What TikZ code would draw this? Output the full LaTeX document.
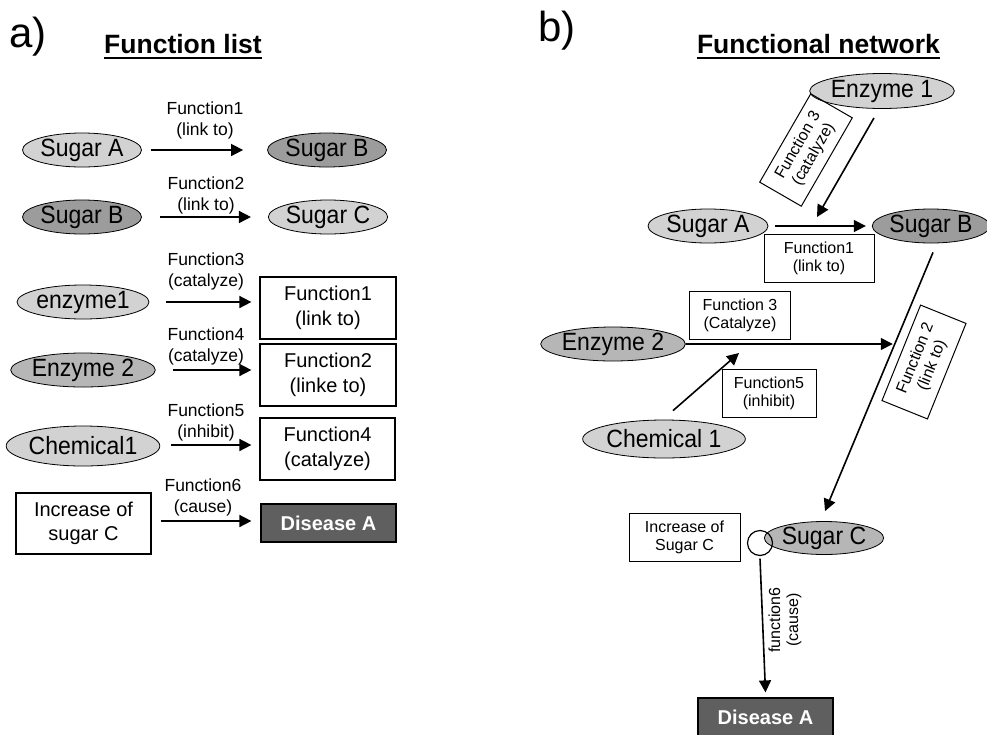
\documentclass[tikz,border=0pt]{standalone}
\usepackage{fontspec}
\setmainfont{Liberation Sans}
\newfontfamily\condfont{Liberation Sans}[FakeStretch=0.92]
\usetikzlibrary{shapes.geometric,arrows.meta,calc}
\definecolor{lightg}{HTML}{D2D2D2}
\definecolor{midg}{HTML}{B6B6B6}
\definecolor{darkg}{HTML}{9C9C9C}
\definecolor{disg}{HTML}{5F5F5F}
\begin{document}
\begin{tikzpicture}[x=1pt,y=-1pt,
  ell/.style={ellipse,draw,line width=0.8pt,inner sep=0pt,minimum width=119pt,minimum height=34pt,font=\condfont\fontsize{25}{27}\selectfont},
  bigbox/.style={rectangle,draw,line width=1.2pt,inner sep=0pt,align=center,font=\fontsize{20}{25}\selectfont},
  smallbox/.style={rectangle,draw,line width=1pt,inner sep=0pt,align=center,font=\fontsize{16}{18}\selectfont},
  disbox/.style={rectangle,draw,line width=1.2pt,fill=disg,text=white,inner sep=0pt,minimum width=135pt,minimum height=38pt,font=\fontsize{20}{24}\bfseries\selectfont},
  arrlab/.style={align=center,inner sep=0pt,font=\fontsize{17.5}{21}\selectfont},
  rotlab/.style={align=center,inner sep=0pt,font=\fontsize{16}{18}\selectfont},
  arr/.style={line width=1.6pt,-{Triangle[length=12pt,width=12pt]}},
  title/.style={anchor=base,inner sep=0pt,font=\fontsize{26.5}{30}\bfseries\selectfont},
  panel/.style={anchor=base,inner sep=0pt,font=\fontsize{42}{46}\selectfont}]
\fill[white] (0,0) rectangle (987,734);
\useasboundingbox (0,0) rectangle (987,734);

% ---------------- panel a ----------------
\node[panel] (pa) at (28,47) {a)};
\node[title] (ta) at (183,53) {Function list};
\draw[line width=1.6pt] ($(ta.base west)+(0,5)$) -- ($(ta.base east)+(0,5)$);

\node[ell,fill=lightg] (sa) at (82,150) {Sugar A};
\node[ell,fill=darkg] (sb1) at (327,150) {Sugar B};
\draw[arr] ([xshift=9pt]sa.east) -- ([xshift=-24pt]sb1.west);
\node[arrlab] (l1) at (205,120) {Function1\\(link to)};

\node[ell,fill=darkg] (sb2) at (82,217) {Sugar B};
\node[ell,fill=lightg] (sc1) at (328,217) {Sugar C};
\draw[arr] ([xshift=18pt]sb2.east) -- ([xshift=-17pt]sc1.west);
\node[arrlab] (l2) at (206,195) {Function2\\(link to)};

\node[ell,fill=lightg] (e1) at (83,302) {enzyme1};
\node[bigbox,minimum width=136pt,minimum height=62pt] (f1) at (328,308) {Function1\\(link to)};
\draw[arr] ([xshift=17pt]e1.east) -- ($(e1.east -| f1.west)+(-8,0)$);
\node[arrlab] (l3) at (206,271) {Function3\\(catalyze)};

\node[ell,fill=midg] (e2) at (83,370) {Enzyme 2};
\node[bigbox,minimum width=136pt,minimum height=62pt] (f2) at (328,375) {Function2\\(linke to)};
\draw[arr] ([xshift=17pt]e2.east) -- ($(e2.east -| f2.west)+(-8,0)$);
\node[arrlab] (l4) at (206,346) {Function4\\(catalyze)};

\node[ell,fill=lightg,minimum width=132pt,minimum height=40pt] (ch) at (83,446) {Chemical1};
\node[bigbox,minimum width=135pt,minimum height=62pt] (f4) at (327.5,449) {Function4\\(catalyze)};
\draw[arr] ($(ch.east)+(11,-1)$) -- ($(ch.east -| f4.west)+(-8,-1)$);
\node[arrlab] (l5) at (206,422) {Function5\\(inhibit)};

\node[bigbox,minimum width=135pt,minimum height=61pt,font=\fontsize{20}{24}\selectfont] (inc1) at (83.5,523.5) {Increase of\\sugar C};
\node[disbox] (dis1) at (328.5,523) {Disease A};
\draw[arr] ($(inc1.east)+(9,-2.5)$) -- ($(inc1.east -| dis1.west)+(-9,-2.5)$);
\node[arrlab] (l6) at (203,497) {Function6\\(cause)};

% ---------------- panel b ----------------
\node[panel] (pb) at (557,41) {b)};
\node[title] (tb) at (818.5,53) {Functional network};
\draw[line width=1.6pt] ($(tb.base west)+(0,5)$) -- ($(tb.base east)+(0,5)$);

\node[ell,fill=lightg,minimum height=35pt] (E1) at (882,91) {Enzyme 1};
\node[ell,fill=lightg,minimum width=120pt] (SA) at (708,226) {Sugar A};
\node[ell,fill=darkg,minimum width=113pt] (SB) at (931,226) {Sugar B};
\node[smallbox,minimum width=110pt,minimum height=48pt] (F1b) at (819,258) {Function1\\(link to)};
\draw[arr] ([xshift=7pt]SA.east) -- ([xshift=-6pt]SB.west);
\coordinate (c1) at (817,217);
\draw[arr] ($(E1.south)+(-8,9)$) -- (c1);
\node[smallbox,rotate=60,minimum width=102pt,minimum height=48pt] (F3a) at (806,150) {Function 3\\(catalyze)};

\node[ell,fill=midg,minimum width=118pt,minimum height=33pt] (SC) at (824,538) {Sugar C};
\coordinate (p1) at ($(SB.south)+(2,9)$);
\coordinate (p2) at ($(SC.north)+(1,-10)$);
\draw[arr] (p1) -- (p2);
\node[smallbox,rotate=68,minimum width=103pt,minimum height=49pt] (F2b) at (924,362) {Function 2\\(link to)};

\node[ell,fill=midg] (E2) at (613,344) {Enzyme 2};
\draw[arr,shorten >=2pt] (E2.east) -- (intersection of p1--p2 and E2.west--E2.east);
\node[smallbox,minimum width=101pt,minimum height=48pt] (F3b) at (740,315) {Function 3\\(Catalyze)};

\node[ell,fill=lightg,minimum width=136pt,minimum height=38pt] (CH) at (664,439) {Chemical 1};
\coordinate (c3) at (739,353);
\draw[arr] ($(CH.north)+(9,-9)$) -- (c3);
\node[smallbox,minimum width=94pt,minimum height=48pt] (F5) at (769,393) {Function5\\(inhibit)};

\node[smallbox,minimum width=111pt,minimum height=48pt] (inc2) at (684.5,537) {Increase of\\Sugar C};
\node[circle,draw,line width=1.2pt,minimum size=25pt,inner sep=0pt] (ring) at (760,543) {};
\node[disbox] (dis2) at (765.5,717) {Disease A};
\draw[arr] ([yshift=-2.5pt]ring.south) -- ([yshift=5pt]dis2.north);
\node[rotlab,rotate=90] (l6b) at (785,620) {function6\\(cause)};
\end{tikzpicture}
\end{document}
